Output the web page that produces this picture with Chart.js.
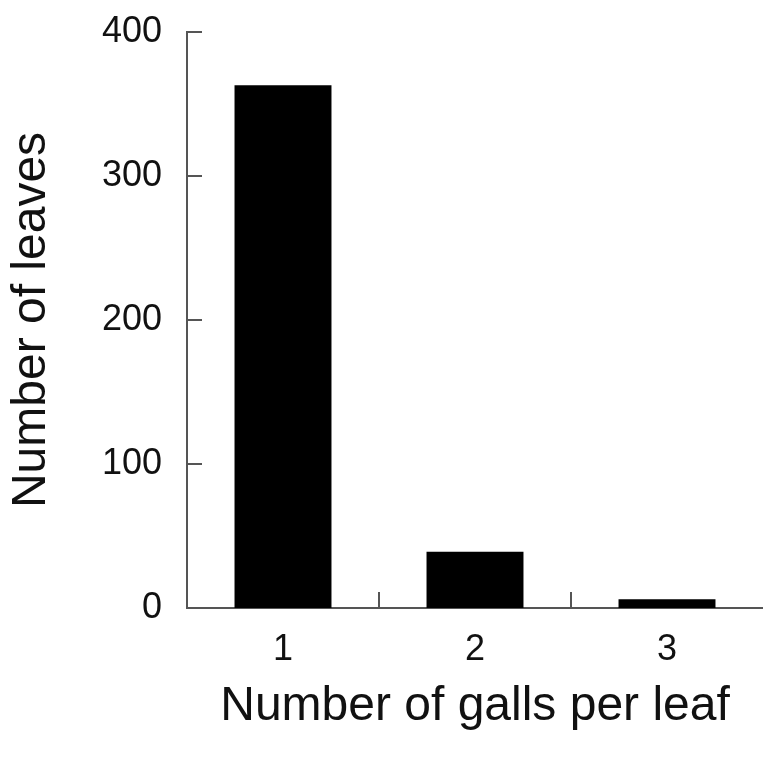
<!DOCTYPE html>
<html>
<head>
<meta charset="utf-8">
<script src="https://cdn.jsdelivr.net/npm/chart.js@4/dist/chart.umd.min.js"></script>
<style>
  html, body { margin: 0; padding: 0; background: #fff; }
  #forChart { width: 763px; height: 758px; }
</style>
</head>
<body>
<div id="forChart"><canvas id="myChart" width="763" height="758"></canvas></div>
<script>
const categories = ['1', '2', '3'];
const leaves = [363, 39, 6];
const yTicks = [0, 100, 200, 300, 400];

const axisColor = '#555555';

// small inward tick marks, like the original figure
const innerTicks = {
    id: 'innerTicks',
    afterDraw(chart) {
        const ctx = chart.ctx;
        const x = chart.scales.x;
        const y = chart.scales.y;
        ctx.save();
        ctx.strokeStyle = axisColor;
        ctx.lineWidth = 2;
        ctx.beginPath();
        yTicks.forEach(function(v) {
            const py = y.getPixelForValue(v);
            ctx.moveTo(x.left, py);
            ctx.lineTo(x.left + 15, py);
        });
        for (let i = 0; i < categories.length - 1; i++) {
            const px = (x.getPixelForTick(i) + x.getPixelForTick(i + 1)) / 2;
            ctx.moveTo(px, y.bottom);
            ctx.lineTo(px, y.bottom - 16);
        }
        ctx.stroke();
        ctx.restore();
    }
};

window.onload = function() {
    makeBarChart(categories, leaves, 'myChart');
}

function makeBarChart(labels, array, element) {
    const data = {
        labels: labels,
        datasets: [{
            label: 'Number of leaves',
            backgroundColor: '#000000',
            borderWidth: 0,
            data: array,
            categoryPercentage: 1.0,
            barPercentage: 0.505
        }]
    };

    const config = {
        type: 'bar',
        data: data,
        plugins: [innerTicks],
        options: {
            responsive: false,
            animation: false,
            layout: { padding: { top: 32, right: 0, bottom: 0, left: 0 } },
            plugins: {
                legend: { display: false },
                tooltip: { enabled: false }
            },
            scales: {
                x: {
                    afterFit: function(scale) { scale.height = 150; },
                    grid: { display: false, drawTicks: false },
                    border: { display: true, color: axisColor, width: 2 },
                    ticks: {
                        color: '#111',
                        padding: 20,
                        font: { family: 'Liberation Sans', size: 36 }
                    },
                    title: {
                        display: true,
                        text: 'Number of galls per leaf',
                        color: '#111',
                        padding: { top: 10, bottom: 22 },
                        font: { family: 'Liberation Sans', size: 48 }
                    }
                },
                y: {
                    min: 0,
                    max: 400,
                    afterFit: function(scale) {
                        scale.width = 187;
                        scale.paddingTop = 0;
                        scale.paddingBottom = 0;
                    },
                    afterBuildTicks: function(scale) {
                        scale.ticks = yTicks.map(function(v) { return { value: v }; });
                    },
                    grid: { display: false, drawTicks: false },
                    border: { display: true, color: axisColor, width: 2 },
                    ticks: {
                        color: '#111',
                        padding: 25,
                        font: { family: 'Liberation Sans', size: 36 }
                    },
                    title: {
                        display: true,
                        text: 'Number of leaves',
                        color: '#111',
                        padding: { top: 3, bottom: 0 },
                        font: { family: 'Liberation Sans', size: 48 }
                    }
                }
            }
        }
    };

    const myChart = new Chart(
        document.getElementById(element),
        config
    );
}
</script>
</body>
</html>
